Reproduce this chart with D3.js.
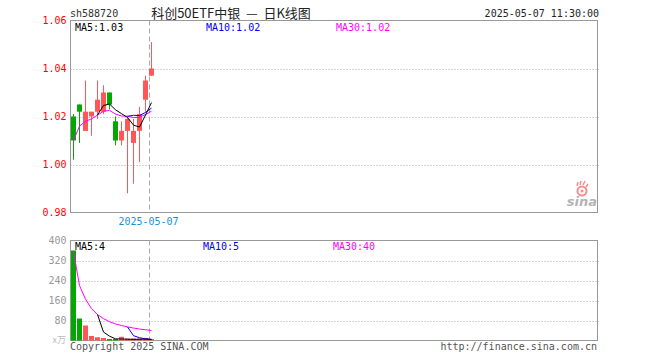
<!DOCTYPE html>
<html><head><meta charset="utf-8">
<script src="https://cdn.jsdelivr.net/npm/d3@7"></script>
<style>
html,body{margin:0;padding:0;background:#fff;}
svg text{font-family:"DejaVu Sans Mono",monospace;font-size:10px;}
</style></head>
<body><svg id="c" width="660" height="360"></svg>
<script>
// ---- data ----
const dates = ["2025-04-15","2025-04-16","2025-04-17","2025-04-18","2025-04-21","2025-04-22","2025-04-23",
               "2025-04-24","2025-04-25","2025-04-28","2025-04-29","2025-04-30","2025-05-06","2025-05-07"];
const open  = [1.020,1.025,1.014,1.020,1.022,1.022,1.030,1.018,1.010,1.014,1.009,1.014,1.027,1.037];
const high  = [1.021,1.025,1.035,1.022,1.035,1.033,1.030,1.020,1.018,1.020,1.019,1.024,1.037,1.051];
const low   = [1.002,1.009,1.014,1.012,1.019,1.021,1.023,1.008,1.008,0.988,0.992,1.001,1.022,1.037];
const close = [1.010,1.022,1.022,1.022,1.027,1.030,1.025,1.010,1.014,1.019,1.014,1.021,1.035,1.040];
const volume = [356,84,56,14,9,6,2,2,11,4,4,4,6,2]; // 万
const priceTicks = [0.98,1.00,1.02,1.04,1.06];
const volTicks = [80,160,240,320,400];
const slots = 88;
const code = "sh588720";
const title = "科创50ETF中银  —  日K线图";
const stamp = "2025-05-07 11:30:00";

// ---- helpers ----
function ma(arr, n, cumulative){
  return arr.map((v,i)=>{
    if(!cumulative && i < n-1) return null;
    const s = Math.max(0, i-n+1);
    return d3.mean(arr.slice(s, i+1));
  });
}
const RED="#ff5757", GREEN="#00a800";
const svg = d3.select("#c");
const L=70.5, R=597.5, T1=20.5, B1=212.5, T2=240.5, B2=340.5;

const x = d3.scaleBand().domain(d3.range(slots)).range([L, L+slots*6]).paddingInner(1/6).paddingOuter(0);
const cx = i => Math.round(x(i) + x.bandwidth()/2) + 0.5;
const y = d3.scaleLinear().domain([0.98,1.06]).range([B1,T1]);
const yv = d3.scaleLinear().domain([0,400]).range([B2,T2]);

// header
svg.append("text").attr("x",70).attr("y",17).attr("fill","#333").text(code);
svg.append("text").attr("x",231).attr("y",18).attr("text-anchor","middle").style("white-space","pre")
  .style("font-family","'Noto Sans CJK SC',sans-serif").style("font-size","13px").attr("fill","#222").text(title);
svg.append("text").attr("x",599).attr("y",17).attr("text-anchor","end").attr("fill","#222").text(stamp);

// grids
const gridG = svg.append("g");
gridG.selectAll("line.pg").data(priceTicks.slice(1,-1)).join("line")
  .attr("x1",L).attr("x2",599).attr("y1",d=>Math.round(y(d))+0.5).attr("y2",d=>Math.round(y(d))+0.5)
  .attr("stroke","#aaa").attr("stroke-dasharray","1,2");
gridG.selectAll("line.vg").data(volTicks.slice(0,-1)).join("line")
  .attr("x1",L).attr("x2",599).attr("y1",d=>Math.round(yv(d))+0.5).attr("y2",d=>Math.round(yv(d))+0.5)
  .attr("stroke","#aaa").attr("stroke-dasharray","1,2");

// frames
svg.append("rect").attr("x",L).attr("y",T1).attr("width",R-L).attr("height",B1-T1).attr("fill","none").attr("stroke","#999");
svg.append("rect").attr("x",L).attr("y",T2).attr("width",R-L).attr("height",B2-T2).attr("fill","none").attr("stroke","#999");

// axes
const ay = svg.append("g").attr("transform",`translate(${L},0)`)
  .call(d3.axisLeft(y).tickValues(priceTicks).tickFormat(d3.format(".2f")).tickSize(0).tickPadding(4));
ay.select(".domain").remove();
ay.selectAll("text").attr("fill","#f00").style("font-family","'DejaVu Sans Mono',monospace").style("font-size","10px");
const av = svg.append("g").attr("transform",`translate(${L},0)`)
  .call(d3.axisLeft(yv).tickValues(volTicks).tickFormat(d3.format("d")).tickSize(0).tickPadding(4));
av.select(".domain").remove();
av.selectAll("text").attr("fill","#999").style("font-family","'DejaVu Sans Mono',monospace").style("font-size","10px");
svg.append("text").attr("x",66).attr("y",yv(0)+2).attr("text-anchor","end").attr("fill","#bbb")
  .style("font-family","'Noto Sans CJK SC',sans-serif").style("font-size","9px").text("x万");

// sina logo
const lg = svg.append("g").attr("opacity",0.55);
lg.append("circle").attr("cx",582).attr("cy",191).attr("r",4.5).attr("fill","none").attr("stroke","#e33").attr("stroke-width",2);
lg.append("circle").attr("cx",582).attr("cy",191).attr("r",1.5).attr("fill","#e33");
lg.append("path").attr("d","M577,186 L578,182 M580,185 L581,181 M583,185 L585,181 M586,187 L588,184").attr("stroke","#e33").attr("stroke-width",1.5);
lg.append("text").attr("x",597).attr("y",206).attr("text-anchor","end").attr("fill","#777")
  .style("font-family","'DejaVu Sans',sans-serif").style("font-size","13px").style("font-style","italic").style("font-weight","bold").text("sina");

// last-day dashed line
const last = dates.length-1;
const dx = Math.round(x(last)) + 0.5;
[[T1,B1],[T2,B2]].forEach(([a,b])=>{
  svg.append("line").attr("x1",dx).attr("x2",dx).attr("y1",a).attr("y2",b)
    .attr("stroke","#aaa").attr("stroke-dasharray","5,3");
});
svg.append("text").attr("x",dx-1).attr("y",225).attr("text-anchor","middle").attr("fill","#1a8fe3").text(dates[last]);

// candles
const idx = d3.range(dates.length);
const cg = svg.append("g");
cg.selectAll("line.w").data(idx).join("line")
  .attr("x1",cx).attr("x2",cx).attr("y1",i=>y(high[i])).attr("y2",i=>y(low[i]))
  .attr("stroke",i=>close[i]>=open[i]?RED:GREEN);
cg.selectAll("rect.b").data(idx).join("rect")
  .attr("x",i=>Math.round(x(i))).attr("width",Math.round(x.bandwidth()))
  .attr("y",i=>y(Math.max(open[i],close[i])))
  .attr("height",i=>Math.max(1, Math.abs(y(open[i])-y(close[i]))))
  .attr("fill",i=>close[i]>=open[i]?RED:GREEN);

// volume bars
svg.append("g").selectAll("rect").data(idx).join("rect")
  .attr("x",i=>Math.round(x(i))).attr("width",Math.round(x.bandwidth()))
  .attr("y",i=>yv(volume[i])-1).attr("height",i=>yv(0)-yv(volume[i])+1)
  .attr("fill",i=>close[i]>=open[i]?RED:GREEN);

// MA lines
function drawMA(vals, scale, color){
  const pts = idx.filter(i=>vals[i]!=null);
  svg.append("path").datum(pts)
    .attr("d", d3.line().x(i=>cx(i)).y(i=>scale(vals[i])))
    .attr("fill","none").attr("stroke",color).attr("stroke-width",1);
}
const pm5=ma(close,5), pm10=ma(close,10), pm30=ma(close,30,true);
const vm5=ma(volume,5), vm10=ma(volume,10), vm30=ma(volume,30,true);
drawMA(pm30,y,"#f0f"); drawMA(pm10,y,"#00f"); drawMA(pm5,y,"#000");
drawMA(vm30,yv,"#f0f"); drawMA(vm10,yv,"#00f"); drawMA(vm5,yv,"#000");

// legends
const f2=d3.format(".2f"), f0=d3.format("d");
svg.append("text").attr("x",75).attr("y",31).attr("fill","#000").text("MA5:"+f2(pm5[last]));
svg.append("text").attr("x",206).attr("y",31).attr("fill","#00f").text("MA10:"+f2(pm10[last]));
svg.append("text").attr("x",336).attr("y",31).attr("fill","#f0f").text("MA30:"+f2(pm30[last]));
svg.append("text").attr("x",75).attr("y",250).attr("fill","#000").text("MA5:"+f0(Math.round(vm5[last])));
svg.append("text").attr("x",203).attr("y",250).attr("fill","#00f").text("MA10:"+f0(Math.round(vm10[last])));
svg.append("text").attr("x",333).attr("y",250).attr("fill","#f0f").text("MA30:"+f0(Math.round(vm30[last])));

// footer
svg.append("text").attr("x",70).attr("y",350).attr("fill","#555").text("Copyright 2025 SINA.COM");
svg.append("text").attr("x",597).attr("y",350).attr("text-anchor","end").attr("fill","#555").text("http://finance.sina.com.cn");
</script></body></html>
